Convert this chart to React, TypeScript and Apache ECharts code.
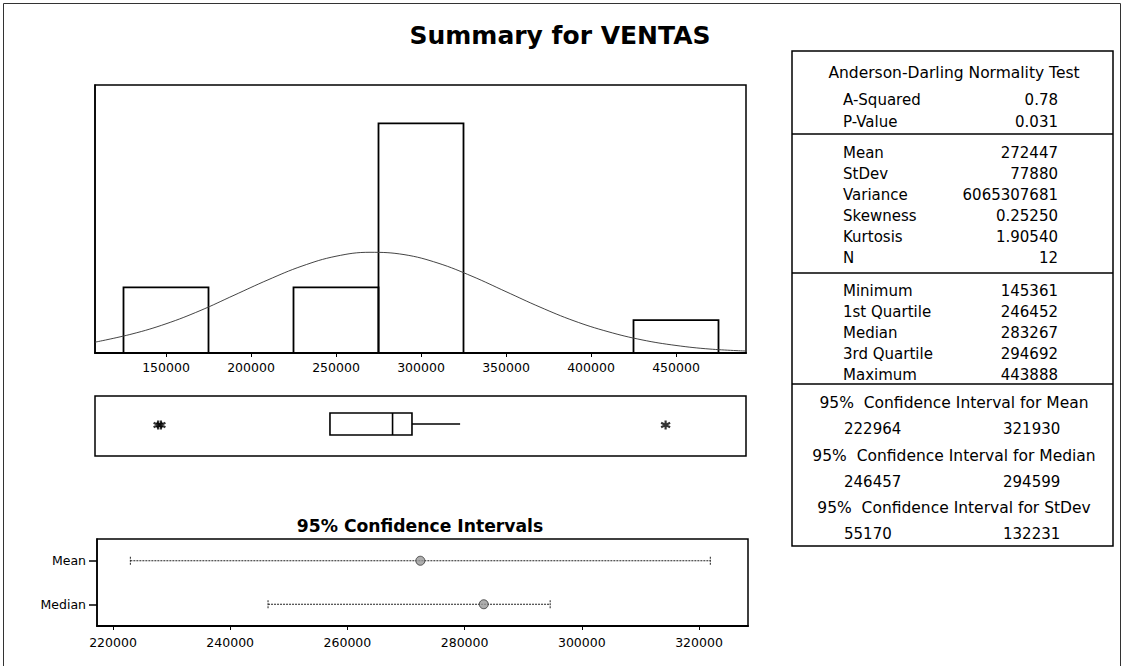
import React, { useEffect, useRef } from 'react';
import * as echarts from 'echarts';

// ---------- data ----------
const histBinLow = [125000, 225000, 275000, 425000];
const histBinHigh = [175000, 275000, 325000, 475000];
const histCounts = [2, 2, 7, 1];
const histTicks = [150000, 200000, 250000, 300000, 350000, 400000, 450000];

// fitted normal curve (counts scale)
const curveX = [108235, 130000, 150000, 170000, 190000, 210000, 230000, 250000, 270000, 290000, 310000, 330000, 350000, 370000, 390000, 410000, 430000, 450000, 470000, 491176];
const curveY = [0.33, 0.58, 0.89, 1.29, 1.76, 2.23, 2.65, 2.95, 3.07, 3.0, 2.74, 2.34, 1.87, 1.4, 0.98, 0.65, 0.4, 0.23, 0.12, 0.06];

const boxCategory = ['VENTAS'];
const boxWhiskerLow = [246452];
const boxQ1 = [246452];
const boxMedian = [283267];
const boxQ3 = [294692];
const boxWhiskerHigh = [323000];
const boxOutliers = [145361, 147000, 443888];

const ciCategories = ['Mean', 'Median'];
const ciEstimate = [272447, 283267];
const ciLow = [222964, 246457];
const ciHigh = [321930, 294599];
const ciTicks = [220000, 240000, 260000, 280000, 300000, 320000];

const adLabels = ['A-Squared', 'P-Value'];
const adValues = ['0.78', '0.031'];
const descLabels = ['Mean', 'StDev', 'Variance', 'Skewness', 'Kurtosis', 'N'];
const descValues = ['272447', '77880', '6065307681', '0.25250', '1.90540', '12'];
const quantLabels = ['Minimum', '1st Quartile', 'Median', '3rd Quartile', 'Maximum'];
const quantValues = ['145361', '246452', '283267', '294692', '443888'];
const ciTableTitles = ['95%  Confidence Interval for Mean', '95%  Confidence Interval for Median', '95%  Confidence Interval for StDev'];
const ciTableLow = ['222964', '246457', '55170'];
const ciTableHigh = ['321930', '294599', '132231'];

// ---------- layout ----------
const FONT = '"DejaVu Sans", Verdana, sans-serif';
const HMIN = 108235;
const HMAX = 491176;
const CMIN = 217270;
const CMAX = 328360;

function txt(text: string, x: number, y: number, size: number, align: string, bold = false) {
  return {
    type: 'text',
    x,
    y,
    silent: true,
    style: {
      text,
      fill: '#000',
      fontSize: size,
      fontFamily: FONT,
      fontWeight: bold ? 'bold' : 'normal',
      align,
      verticalAlign: 'middle',
    },
  };
}

function hline(x1: number, x2: number, y: number, w = 1.5) {
  return { type: 'line', silent: true, shape: { x1, y1: y, x2, y2: y }, style: { stroke: '#000', lineWidth: w } };
}

function buildGraphic() {
  const g: any[] = [];
  // outer frame
  g.push({ type: 'rect', silent: true, shape: { x: 3.5, y: 3.5, width: 1117, height: 700 }, style: { fill: 'none', stroke: '#333', lineWidth: 1 } });
  // main title
  g.push(txt('Summary for VENTAS', 560, 35, 25, 'center', true));
  // CI title
  g.push(txt('95% Confidence Intervals', 420, 526, 17.2, 'center', true));
  // table
  const tl = 792, tr = 1113, tt = 51, tb = 546;
  g.push({ type: 'rect', silent: true, shape: { x: tl, y: tt, width: tr - tl, height: tb - tt }, style: { fill: 'none', stroke: '#000', lineWidth: 1.5 } });
  g.push(hline(tl, tr, 134));
  g.push(hline(tl, tr, 273));
  g.push(hline(tl, tr, 384));
  const lx = 843, rx = 1058, cx = 954;
  g.push(txt('Anderson-Darling Normality Test', cx, 73, 15.5, 'center'));
  adLabels.forEach((l, i) => {
    g.push(txt(l, lx, 100 + i * 22, 15, 'left'));
    g.push(txt(adValues[i], rx, 100 + i * 22, 15, 'right'));
  });
  descLabels.forEach((l, i) => {
    g.push(txt(l, lx, 153 + i * 21, 15, 'left'));
    g.push(txt(descValues[i], rx, 153 + i * 21, 15, 'right'));
  });
  quantLabels.forEach((l, i) => {
    g.push(txt(l, lx, 291 + i * 21, 15, 'left'));
    g.push(txt(quantValues[i], rx, 291 + i * 21, 15, 'right'));
  });
  ciTableTitles.forEach((t, i) => {
    const y0 = 403 + i * 52.5;
    g.push(txt(t, cx, y0, 15.5, 'center'));
    g.push(txt(ciTableLow[i], 844, y0 + 26, 15, 'left'));
    g.push(txt(ciTableHigh[i], 1003, y0 + 26, 15, 'left'));
  });
  return g;
}

const plain = (v: number) => String(Math.round(v));
const axisText = { color: '#000', fontSize: 12.5, fontFamily: FONT };

function buildOption(): any {
  return {
    animation: false,
    backgroundColor: '#fff',
    grid: [
      { left: 95, top: 85, width: 651, height: 268, show: true, borderColor: '#000', borderWidth: 1.5 },
      { left: 95, top: 396, width: 651, height: 60, show: true, borderColor: '#000', borderWidth: 1.5 },
      { left: 97, top: 539, width: 651, height: 87, show: true, borderColor: '#000', borderWidth: 1.5 },
    ],
    xAxis: [
      {
        gridIndex: 0, type: 'value', min: HMIN, max: HMAX,
        axisLine: { show: true, lineStyle: { color: '#000', width: 2 } },
        axisTick: { show: true, customValues: histTicks, length: 4, lineStyle: { color: '#000', width: 1 } },
        axisLabel: { ...axisText, customValues: histTicks, margin: 8, formatter: plain },
        splitLine: { show: false },
      },
      {
        gridIndex: 1, type: 'value', min: HMIN, max: HMAX,
        axisLine: { show: false }, axisTick: { show: false }, axisLabel: { show: false }, splitLine: { show: false },
      },
      {
        gridIndex: 2, type: 'value', min: CMIN, max: CMAX,
        axisLine: { show: true, lineStyle: { color: '#000', width: 2 } },
        axisTick: { show: true, customValues: ciTicks, length: 4, lineStyle: { color: '#000', width: 1 } },
        axisLabel: { ...axisText, customValues: ciTicks, margin: 10, formatter: plain },
        splitLine: { show: false },
      },
    ],
    yAxis: [
      {
        gridIndex: 0, type: 'value', min: 0, max: 8.17,
        axisLine: { show: true, lineStyle: { color: '#000', width: 1.5 } },
        axisTick: { show: false }, axisLabel: { show: false }, splitLine: { show: false },
      },
      {
        gridIndex: 1, type: 'category', data: boxCategory,
        axisLine: { show: false }, axisTick: { show: false }, axisLabel: { show: false }, splitLine: { show: false },
      },
      {
        gridIndex: 2, type: 'category', data: ciCategories, inverse: true,
        axisLine: { show: true, lineStyle: { color: '#000', width: 1.5 } },
        axisTick: { show: true, alignWithLabel: true, length: 8, lineStyle: { color: '#000', width: 1.5 } },
        axisLabel: { ...axisText, margin: 11 },
        splitLine: { show: false },
      },
    ],
    series: [
      {
        type: 'custom', name: 'Histogram', xAxisIndex: 0, yAxisIndex: 0,
        data: histCounts.map((c, i) => [histBinLow[i], histBinHigh[i], c]),
        encode: { x: [0, 1], y: 2 },
        renderItem: (_p: any, api: any) => {
          const a = api.coord([api.value(0), api.value(2)]);
          const b = api.coord([api.value(1), 0]);
          return {
            type: 'rect',
            shape: { x: a[0], y: a[1], width: b[0] - a[0], height: b[1] - a[1] },
            style: { fill: 'none', stroke: '#000', lineWidth: 1.8 },
          };
        },
        z: 2,
      },
      {
        type: 'line', name: 'Normal', xAxisIndex: 0, yAxisIndex: 0,
        data: curveX.map((x, i) => [x, curveY[i]]),
        smooth: 0.4, showSymbol: false, symbol: 'none',
        lineStyle: { color: '#444', width: 1 },
        z: 3,
      },
      {
        type: 'custom', name: 'Boxplot', xAxisIndex: 1, yAxisIndex: 1,
        data: boxCategory.map((_c, i) => [i, boxWhiskerLow[i], boxQ1[i], boxMedian[i], boxQ3[i], boxWhiskerHigh[i]]),
        encode: { y: 0, x: [1, 2, 3, 4, 5] },
        renderItem: (_p: any, api: any) => {
          const idx = api.value(0);
          const pWl = api.coord([api.value(1), idx]);
          const pQ1 = api.coord([api.value(2), idx]);
          const pMd = api.coord([api.value(3), idx]);
          const pQ3 = api.coord([api.value(4), idx]);
          const pWh = api.coord([api.value(5), idx]);
          const h = 11;
          const dy = -2;
          const st = { stroke: '#000', lineWidth: 1.6, fill: 'none' };
          return {
            type: 'group',
            children: [
              { type: 'line', shape: { x1: pWl[0], y1: pWl[1] + dy, x2: pQ1[0], y2: pQ1[1] + dy }, style: st },
              { type: 'line', shape: { x1: pQ3[0], y1: pQ3[1] + dy, x2: pWh[0], y2: pWh[1] + dy }, style: st },
              { type: 'rect', shape: { x: pQ1[0], y: pQ1[1] + dy - h, width: pQ3[0] - pQ1[0], height: 2 * h }, style: st },
              { type: 'line', shape: { x1: pMd[0], y1: pMd[1] + dy - h, x2: pMd[0], y2: pMd[1] + dy + h }, style: st },
            ],
          };
        },
      },
      {
        type: 'scatter', name: 'Outliers', xAxisIndex: 1, yAxisIndex: 1,
        data: boxOutliers.map((v) => [v, 0]),
        symbol: 'path://M5,0L5,10M0.7,2.5L9.3,7.5M0.7,7.5L9.3,2.5',
        symbolSize: 9,
        symbolOffset: [0, -1],
        itemStyle: { color: '#000', borderColor: '#000', borderWidth: 2.2 },
      },
      {
        type: 'custom', name: 'CI', xAxisIndex: 2, yAxisIndex: 2,
        data: ciCategories.map((_c, i) => [ciLow[i], ciHigh[i], i]),
        encode: { x: [0, 1], y: 2 },
        renderItem: (_p: any, api: any) => {
          const a = api.coord([api.value(0), api.value(2)]);
          const b = api.coord([api.value(1), api.value(2)]);
          const st = { stroke: '#222', lineWidth: 1, lineDash: [2, 1], fill: 'none' };
          return {
            type: 'group',
            children: [
              { type: 'line', shape: { x1: a[0], y1: a[1], x2: b[0], y2: b[1] }, style: st },
              { type: 'line', shape: { x1: a[0], y1: a[1] - 4, x2: a[0], y2: a[1] + 4 }, style: st },
              { type: 'line', shape: { x1: b[0], y1: b[1] - 4, x2: b[0], y2: b[1] + 4 }, style: st },
            ],
          };
        },
      },
      {
        type: 'scatter', name: 'Estimate', xAxisIndex: 2, yAxisIndex: 2,
        data: ciEstimate.map((v, i) => [v, i]),
        symbol: 'circle', symbolSize: 9,
        itemStyle: { color: '#9a9a9a', borderColor: '#333', borderWidth: 1 },
        z: 5,
      },
    ],
    graphic: buildGraphic(),
  };
}

export default function App() {
  const ref = useRef<HTMLDivElement>(null);
  useEffect(() => {
    if (!ref.current) return;
    const chart = echarts.init(ref.current, undefined, { renderer: 'svg' });
    chart.setOption(buildOption());
    return () => chart.dispose();
  }, []);
  return <div ref={ref} style={{ position: 'absolute', left: 0, top: 0, width: 1124, height: 666, background: '#fff' }} />;
}
